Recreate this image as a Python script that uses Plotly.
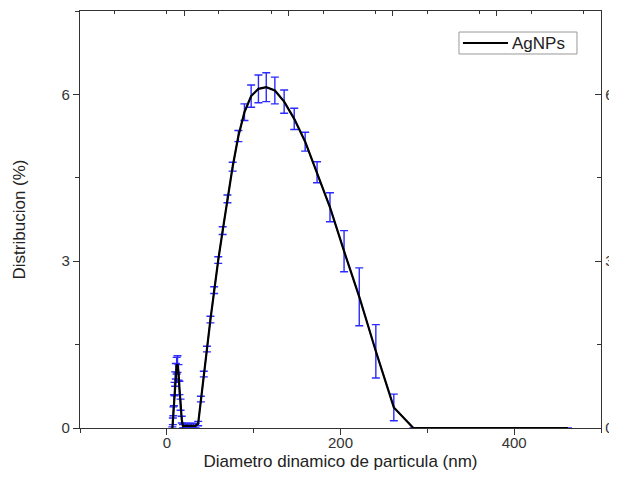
import plotly.graph_objects as go

# Hydrodynamic diameter bins (nm)
diam = [6.4, 6.9, 7.5, 8.2, 8.9, 9.6, 10.4, 11.3, 12.3, 13.4, 14.5, 15.8, 17.2, 18.6,
        20.2, 22.0, 23.9, 25.9, 28.2, 30.6, 33.2, 36.1, 39.2, 42.6, 46.2, 50.2, 54.5,
        59.2, 64.3, 69.8, 75.8, 82.4, 89.4, 97.1, 105.5, 114.5, 124.4, 135.1, 146.7,
        159.3, 173.0, 187.9, 204.1, 221.6, 240.7, 261.4, 283.9, 308.3, 334.8, 363.6,
        394.9, 428.8, 462.0]

# Distribution (%)
dist = [0.0, 0.12, 0.3, 0.5, 0.7, 0.88, 1.02, 1.12, 1.15, 1.0, 0.72, 0.42, 0.15, 0.03,
        0.04, 0.04, 0.04, 0.04, 0.04, 0.04, 0.04, 0.08, 0.52, 0.97, 1.42, 1.95, 2.48,
        3.02, 3.55, 4.12, 4.7, 5.25, 5.68, 5.97, 6.1, 6.13, 6.07, 5.87, 5.56,
        5.15, 4.6, 3.97, 3.18, 2.36, 1.38, 0.37, 0.0, 0.0, 0.0, 0.0,
        0.0, 0.0, 0.0]

# Standard deviation (%)
err = [0.02, 0.06, 0.08, 0.1, 0.12, 0.13, 0.14, 0.15, 0.15, 0.14, 0.12, 0.1, 0.06, 0.03,
       0.04, 0.04, 0.04, 0.04, 0.04, 0.04, 0.04, 0.04, 0.05, 0.05, 0.05, 0.06, 0.06,
       0.06, 0.07, 0.07, 0.08, 0.1, 0.15, 0.2, 0.25, 0.26, 0.24, 0.21, 0.19,
       0.17, 0.19, 0.26, 0.37, 0.52, 0.48, 0.24, None, None, None, None,
       None, None, None]

series_name = "AgNPs"
x_title = "Diametro dinamico de particula (nm)"
y_title = "Distribucion (%)"

axis_col = "#333333"
font = "Liberation Sans, Arial, sans-serif"

fig = go.Figure()

# blue mean line with error bars
fig.add_trace(go.Scatter(
    x=diam, y=dist, mode="lines",
    line=dict(color="#2b2bff", width=1.3),
    error_y=dict(type="data", array=err, visible=True, color="#2b2bff",
                 thickness=1.4, width=4),
    showlegend=False, hoverinfo="skip"))

# black curve
fig.add_trace(go.Scatter(
    x=diam, y=dist, mode="lines", name=series_name,
    line=dict(color="black", width=2.2), showlegend=False))

# dummy trace for top/right axes
fig.add_trace(go.Scatter(x=[-100], y=[0], xaxis="x2", yaxis="y2", mode="markers",
                         marker=dict(opacity=0), showlegend=False, hoverinfo="skip"))

common = dict(showgrid=False, zeroline=False, showline=True, linecolor=axis_col,
              linewidth=1.3, tickcolor=axis_col, tickwidth=1.3)

# legend box drawn in paper coordinates
leg_x0, leg_x1, leg_y0, leg_y1 = 0.7274, 0.9539, 0.8969, 0.9496
leg_yc = (leg_y0 + leg_y1) / 2
shapes = [
    dict(type="rect", xref="paper", yref="paper", x0=leg_x0, x1=leg_x1, y0=leg_y0, y1=leg_y1,
         line=dict(color="#999999", width=1), fillcolor="white", layer="above"),
    dict(type="line", xref="paper", yref="paper", x0=0.735, x1=0.8215, y0=leg_yc, y1=leg_yc,
         line=dict(color="black", width=2.2), layer="above"),
]
annotations = [
    dict(text=series_name, xref="paper", yref="paper", x=0.826, y=leg_yc,
         xanchor="left", yanchor="middle", showarrow=False,
         font=dict(size=17, color="#222222")),
]

fig.update_layout(
    width=617, height=491,
    margin=dict(l=72, r=24, t=3, b=71, autoexpand=False),
    paper_bgcolor="white", plot_bgcolor="white",
    font=dict(family=font, size=15, color="#222222"),
    xaxis=dict(range=[-100, 500], tick0=0, dtick=200, ticks="outside", ticklen=6,
               minor=dict(dtick=100, ticks="outside", ticklen=4, tickcolor=axis_col),
               tickfont=dict(size=15, color="#333333"), ticklabelstandoff=-5,
               title=dict(text=x_title, font=dict(size=17, color="#222222"), standoff=4),
               **common),
    yaxis=dict(range=[0, 7.5], tick0=0, dtick=3, ticks="outside", ticklen=6,
               minor=dict(dtick=1.5, ticks="outside", ticklen=4, tickcolor=axis_col),
               tickfont=dict(size=15, color="#333333"),
               title=dict(text=y_title, font=dict(size=17, color="#222222"), standoff=31),
               **common),
    xaxis2=dict(range=[-100, 500], overlaying="x", side="top", anchor="y",
                tick0=20, dtick=120, ticks="inside", ticklen=5, showticklabels=False,
                minor=dict(dtick=60, ticks="inside", ticklen=3, tickcolor=axis_col),
                **common),
    yaxis2=dict(range=[0, 7.5], overlaying="y", side="right", anchor="x",
                tick0=0, dtick=3, ticks="inside", ticklen=6, showticklabels=True,
                ticklabelposition="outside",
                minor=dict(dtick=1.5, ticks="inside", ticklen=4, tickcolor=axis_col),
                tickfont=dict(size=15, color="#333333"), ticklabelstandoff=0,
                **common),
    shapes=shapes,
    annotations=annotations,
    showlegend=False,
)

fig.write_html("out.html")
